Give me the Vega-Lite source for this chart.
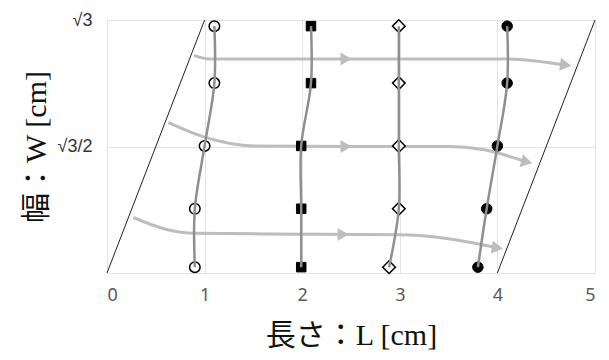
{
  "$schema": "https://vega.github.io/schema/vega-lite/v6.json",
  "width": 488,
  "height": 253,
  "autosize": "none",
  "padding": {"left": 107, "top": 20, "right": 14, "bottom": 87},
  "background": "white",
  "config": {
    "view": {"stroke": "#d9d9d9", "strokeWidth": 1},
    "axis": {"gridColor": "#e3e3e3", "gridWidth": 1, "ticks": false, "domain": false, "titleFontWeight": "normal", "titleColor": "#111111", "titleFont": "Liberation Serif, Noto Sans CJK JP", "labelFont": "Noto Sans, Noto Sans CJK JP"}
  },
  "datasets": {
    "bounds": [
      {"b": "L", "x": 0, "y": 0}, {"b": "L", "x": 1, "y": 1.7320508},
      {"b": "R", "x": 4, "y": 0}, {"b": "R", "x": 5, "y": 1.7320508}
    ],
    "pts": [
      {"col": "o", "row": 1, "x": 1.10, "y": 1.69}, {"col": "o", "row": 2, "x": 1.10, "y": 1.30}, {"col": "o", "row": 3, "x": 1.00, "y": 0.87}, {"col": "o", "row": 4, "x": 0.90, "y": 0.44}, {"col": "o", "row": 5, "x": 0.90, "y": 0.04},
      {"col": "s", "row": 1, "x": 2.09, "y": 1.69}, {"col": "s", "row": 2, "x": 2.09, "y": 1.30}, {"col": "s", "row": 3, "x": 1.99, "y": 0.87}, {"col": "s", "row": 4, "x": 1.99, "y": 0.44}, {"col": "s", "row": 5, "x": 1.99, "y": 0.04},
      {"col": "d", "row": 1, "x": 2.99, "y": 1.69}, {"col": "d", "row": 2, "x": 2.99, "y": 1.30}, {"col": "d", "row": 3, "x": 2.99, "y": 0.87}, {"col": "d", "row": 4, "x": 2.99, "y": 0.44}, {"col": "d", "row": 5, "x": 2.89, "y": 0.04},
      {"col": "h", "row": 1, "x": 4.10, "y": 1.69}, {"col": "h", "row": 2, "x": 4.10, "y": 1.30}, {"col": "h", "row": 3, "x": 4.00, "y": 0.87}, {"col": "h", "row": 4, "x": 3.89, "y": 0.44}, {"col": "h", "row": 5, "x": 3.80, "y": 0.04}
    ],
    "arrows": [
      {"a": 1, "o": 1, "x": 0.89, "y": 1.49}, {"a": 1, "o": 2, "x": 1.05, "y": 1.465}, {"a": 1, "o": 3, "x": 2.0, "y": 1.465}, {"a": 1, "o": 4, "x": 3.0, "y": 1.465}, {"a": 1, "o": 5, "x": 4.1, "y": 1.465}, {"a": 1, "o": 6, "x": 4.72, "y": 1.42},
      {"a": 2, "o": 1, "x": 0.63, "y": 1.03}, {"a": 2, "o": 2, "x": 1.0, "y": 0.93}, {"a": 2, "o": 3, "x": 1.5, "y": 0.87}, {"a": 2, "o": 4, "x": 2.5, "y": 0.866}, {"a": 2, "o": 5, "x": 3.5, "y": 0.866}, {"a": 2, "o": 6, "x": 3.85, "y": 0.845}, {"a": 2, "o": 7, "x": 4.32, "y": 0.755},
      {"a": 3, "o": 1, "x": 0.27, "y": 0.38}, {"a": 3, "o": 2, "x": 0.6, "y": 0.30}, {"a": 3, "o": 3, "x": 0.9, "y": 0.272}, {"a": 3, "o": 4, "x": 2.0, "y": 0.266}, {"a": 3, "o": 5, "x": 3.0, "y": 0.262}, {"a": 3, "o": 6, "x": 3.5, "y": 0.235}, {"a": 3, "o": 7, "x": 4.02, "y": 0.17}
    ],
    "heads": [
      {"x": 2.45, "y": 1.465, "ang": 0}, {"x": 4.70, "y": 1.424, "ang": 7},
      {"x": 2.45, "y": 0.866, "ang": 0}, {"x": 4.30, "y": 0.76, "ang": 14},
      {"x": 2.42, "y": 0.264, "ang": 0}, {"x": 4.0, "y": 0.172, "ang": 8}
    ]
  },
  "layer": [
    {
      "data": {"name": "bounds"},
      "mark": {"type": "line", "color": "#222222", "strokeWidth": 1},
      "encoding": {
        "x": {"field": "x", "type": "quantitative", "scale": {"domain": [0, 5], "nice": false},
          "axis": {"values": [0, 1, 2, 3, 4, 5], "format": "d", "grid": true, "labelColor": "#595959", "labelFontSize": 18, "labelPadding": 13, "title": "長さ：L [cm]", "titleFontSize": 30, "titlePadding": 16}},
        "y": {"field": "y", "type": "quantitative", "scale": {"domain": [0, 1.7320508], "nice": false},
          "axis": {"values": [0, 0.8660254, 1.7320508], "grid": true, "labelExpr": "datum.value > 1.7 ? '√3' : (datum.value > 0.8 ? '√3/2' : '')", "labelFont": "Liberation Sans", "labelColor": "#333333", "labelFontSize": 18, "labelPadding": 15, "title": "幅：W [cm]", "titleFontSize": 30, "titlePadding": 6}},
        "detail": {"field": "b"}
      }
    },
    {
      "data": {"name": "arrows"},
      "mark": {"type": "line", "color": "#bdbdbd", "strokeWidth": 3, "interpolate": "monotone"},
      "encoding": {
        "x": {"field": "x", "type": "quantitative"},
        "y": {"field": "y", "type": "quantitative"},
        "detail": {"field": "a"},
        "order": {"field": "o"}
      }
    },
    {
      "data": {"name": "heads"},
      "mark": {"type": "point", "shape": "triangle-right", "filled": true, "color": "#bdbdbd", "opacity": 1, "size": 170},
      "encoding": {
        "x": {"field": "x", "type": "quantitative"},
        "y": {"field": "y", "type": "quantitative"},
        "angle": {"field": "ang", "type": "quantitative", "scale": null}
      }
    },
    {
      "data": {"name": "pts"},
      "transform": [{"filter": "datum.col === 'o'"}],
      "mark": {"type": "point", "shape": "circle", "fill": "white", "stroke": "black", "strokeWidth": 1.5, "opacity": 1, "size": 110},
      "encoding": {"x": {"field": "x", "type": "quantitative"}, "y": {"field": "y", "type": "quantitative"}}
    },
    {
      "data": {"name": "pts"},
      "transform": [{"filter": "datum.col === 's'"}],
      "mark": {"type": "point", "shape": "square", "fill": "black", "stroke": "black", "strokeWidth": 1, "opacity": 1, "size": 90},
      "encoding": {"x": {"field": "x", "type": "quantitative"}, "y": {"field": "y", "type": "quantitative"}}
    },
    {
      "data": {"name": "pts"},
      "transform": [{"filter": "datum.col === 'd'"}],
      "mark": {"type": "point", "shape": "diamond", "fill": "white", "stroke": "black", "strokeWidth": 1.5, "opacity": 1, "size": 160},
      "encoding": {"x": {"field": "x", "type": "quantitative"}, "y": {"field": "y", "type": "quantitative"}}
    },
    {
      "data": {"name": "pts"},
      "transform": [{"filter": "datum.col === 'h'"}],
      "mark": {"type": "point", "shape": "circle", "fill": "black", "stroke": "black", "strokeWidth": 1, "opacity": 1, "size": 110},
      "encoding": {"x": {"field": "x", "type": "quantitative"}, "y": {"field": "y", "type": "quantitative"}}
    },
    {
      "data": {"name": "pts"},
      "mark": {"type": "line", "color": "#8f8f8f", "strokeWidth": 2.5, "interpolate": "catmull-rom"},
      "encoding": {
        "x": {"field": "x", "type": "quantitative"},
        "y": {"field": "y", "type": "quantitative"},
        "detail": {"field": "col"},
        "order": {"field": "row"}
      }
    }
  ]
}
